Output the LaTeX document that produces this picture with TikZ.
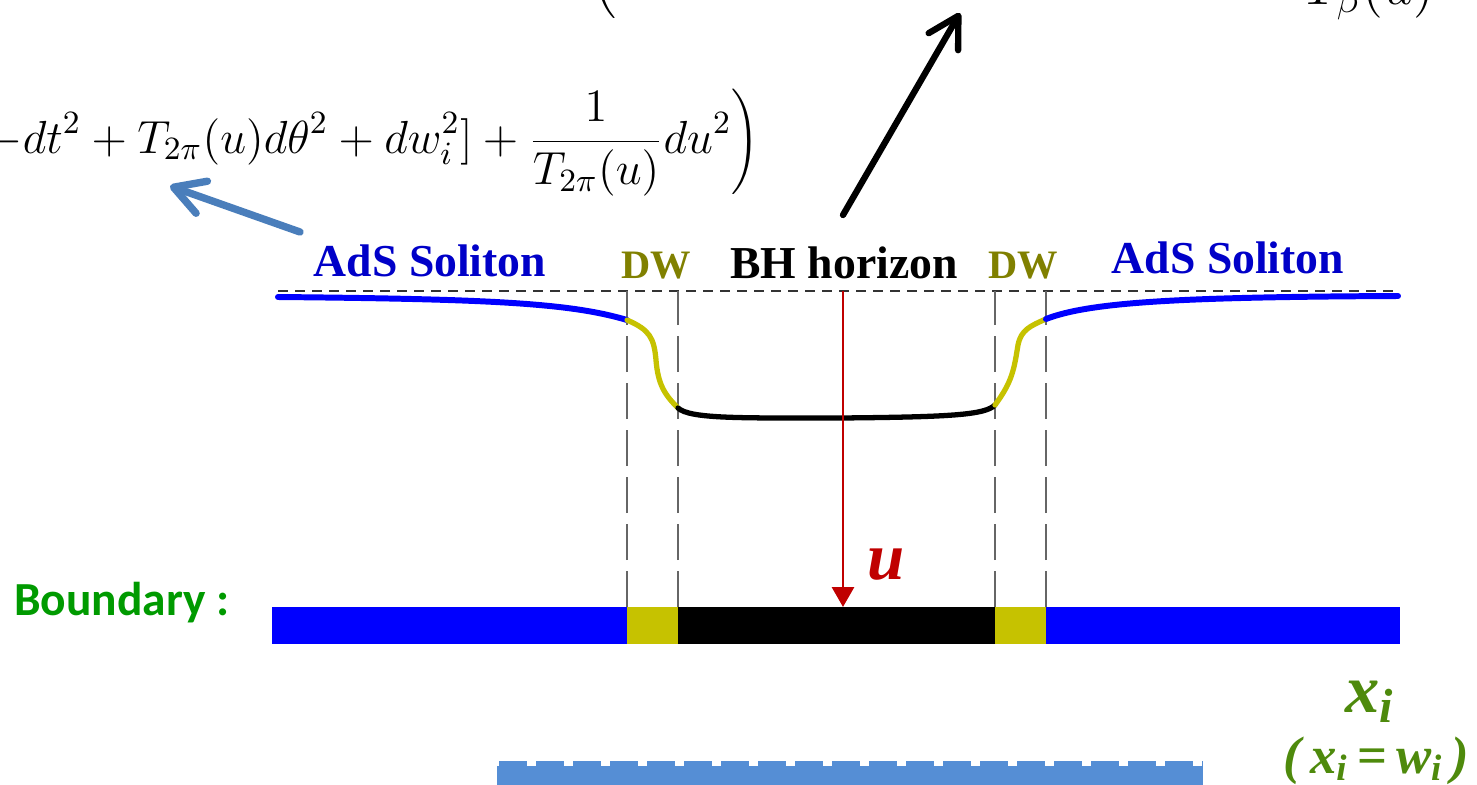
\documentclass[tikz,border=0pt]{standalone}
\usepackage{fix-cm}
\usepackage{fontspec}
\newfontfamily\slidefont{Liberation Serif}
\newfontfamily\bdfont{Carlito}
\usetikzlibrary{positioning,arrows.meta,calc}
\definecolor{solblue}{HTML}{0000FF}
\definecolor{sollab}{HTML}{0000C8}
\definecolor{dwyel}{HTML}{C6C200}
\definecolor{dwlab}{HTML}{808000}
\definecolor{ured}{HTML}{C00000}
\definecolor{bdgreen}{HTML}{009A00}
\definecolor{xgreen}{HTML}{4E8A0C}
\definecolor{ptrblue}{HTML}{4A7EBB}
\definecolor{barblue}{HTML}{558ED5}
\tikzset{
  sol/.style={draw=solblue, line width=1.7pt, line cap=round},
  dwc/.style={draw=dwyel, line width=1.5pt, line cap=round},
  bhc/.style={draw=black, line width=1.5pt, line cap=round},
  hdash/.style={draw=black!80, line width=0.4pt, dash pattern=on 1mm off 0.7mm},
  vdash/.style={draw=black!60, line width=0.4pt, dash pattern=on 3.6mm off 1.1mm},
  blk/.style={inner sep=0pt, outer sep=0pt, minimum height=3.7mm},
  ptr/.style={line width=1.8pt, line cap=round,
    -{Straight Barb[length=3mm, width=3.4mm, round]}},
  uarr/.style={draw=ured, line width=0.85pt, -{Triangle[length=2mm, width=2.2mm]}},
  slab/.style={font=\slidefont\bfseries\fontsize{13}{15}\selectfont, inner sep=0pt},
  dwlabel/.style={font=\slidefont\bfseries\fontsize{11.5}{13}\selectfont, inner sep=0pt, text=dwlab},
  bdlabel/.style={font=\bdfont\bfseries\fontsize{13.5}{16}\selectfont, text=bdgreen, inner sep=0pt},
  xlabel/.style={font=\slidefont\bfseries\itshape\fontsize{#1}{#1}\selectfont, text=xgreen,
    inner sep=0pt, anchor=base west},
  eqn/.style={font=\fontsize{13.2}{15}\selectfont, inner sep=0pt},
  topeqn/.style={font=\fontsize{15.5}{18}\selectfont, inner sep=0pt},
}

\begin{document}
\begin{tikzpicture}
  \useasboundingbox (0,0) rectangle (14.77,-7.85);
  \clip (0,0) rectangle (14.77,-7.85);

  % metric pieces (cut by the frame)
  \node[topeqn, anchor=south] (tpar) at (6.02,-0.19) {$\Bigg($};
  \node[topeqn, anchor=south west] (ttb) at (13.05,-0.21) {$T_\beta(u)$};
  \node[eqn, anchor=base east] (meq) at (7.60,-1.53)
    {$\displaystyle -dt^2+T_{2\pi}(u)d\theta^2+dw_i^2]+\frac{1}{T_{2\pi}(u)}du^2\Bigg)$};

  % labels over the bulk
  \node[slab, text=sollab] (solL) at (4.30,-2.61) {AdS Soliton};
  \node[dwlabel] (dwL) at (6.56,-2.66) {DW};
  \node[slab] (bhlab) at (8.44,-2.63) {BH horizon};
  \node[dwlabel] (dwR) at (10.23,-2.66) {DW};
  \node[slab, text=sollab] (solR) at (12.28,-2.58) {AdS Soliton};

  \coordinate (hl) at (2.78,-2.91);
  \coordinate (hr) at (13.98,-2.91);
  \draw[hdash] (hl) -- (hr);

  % boundary strip
  \node[bdlabel] (bdlab) at (1.22,-6.03) {Boundary :};
  \node[blk, fill=solblue, minimum width=3.55cm, anchor=north west] (bsl) at (2.72,-6.07) {};
  \node[blk, fill=dwyel, minimum width=0.51cm, right=0pt of bsl] (bdl) {};
  \node[blk, fill=black, minimum width=3.17cm, right=0pt of bdl] (bbh) {};
  \node[blk, fill=dwyel, minimum width=0.51cm, right=0pt of bbh] (bdr) {};
  \node[blk, fill=solblue, minimum width=3.54cm, right=0pt of bdr] (bsr) {};

  \foreach \n/\a in {bdl/north west, bdl/north east, bdr/north west, bdr/north east}
    \draw[vdash] (\n.\a) -- (\n.\a |- hl);

  % profile of the bulk solution
  \coordinate (j1) at (6.27,-3.20);
  \coordinate (j2) at (6.78,-4.08);
  \coordinate (j3) at (9.95,-4.05);
  \coordinate (j4) at (10.46,-3.19);
  \draw[sol] (2.78,-2.97) .. controls (4.9,-2.99) and (5.7,-3.03) .. (j1);
  \draw[dwc] (j1) .. controls (6.50,-3.30) and (6.54,-3.38) .. (6.56,-3.60)
    .. controls (6.58,-3.85) and (6.65,-3.95) .. (j2);
  \draw[bhc] (j2) .. controls (6.90,-4.19) and (7.40,-4.18) .. (8.40,-4.18)
    .. controls (9.50,-4.17) and (9.85,-4.15) .. (j3);
  \draw[dwc] (j3) .. controls (10.12,-3.82) and (10.14,-3.70) .. (10.18,-3.45)
    .. controls (10.21,-3.30) and (10.30,-3.26) .. (j4);
  \draw[sol] (j4) .. controls (10.9,-3.02) and (11.8,-2.97) .. (13.98,-2.96);

  % radial direction
  \coordinate (utop) at (8.43,-2.91);
  \draw[uarr] (utop) -- (utop |- bbh.north);
  \node[font=\slidefont\bfseries\itshape\fontsize{19}{22}\selectfont, text=ured, inner sep=0pt]
    (ulab) at (8.86,-5.65) {u};

  % pointers to the metrics
  \coordinate (bktail) at (8.43,-2.15);
  \coordinate (bktip) at (9.60,-0.13);
  \draw[ptr] (bktail) -- (bktip);
  \coordinate (bltail) at (3.00,-2.32);
  \coordinate (bltip) at (1.70,-1.86);
  \draw[ptr, draw=ptrblue, line width=2.1pt] (bltail) -- (bltip);

  % field theory direction
  \node[xlabel=19.5] (xlab) at (13.45,-7.12) {x\textsubscript{i}};
  \node[xlabel=15] (xwlab) at (12.83,-7.73)
    {(\,x\textsubscript{i}\,{\upshape=}\,w\textsubscript{i}\,)};
  \fill[barblue] (4.97,-7.66) rectangle (12.03,-7.90);
  \draw[barblue, line width=1.4pt, dash pattern=on 2.8mm off 0.9mm] (4.99,-7.635) -- (12.03,-7.635);
\end{tikzpicture}
\end{document}
